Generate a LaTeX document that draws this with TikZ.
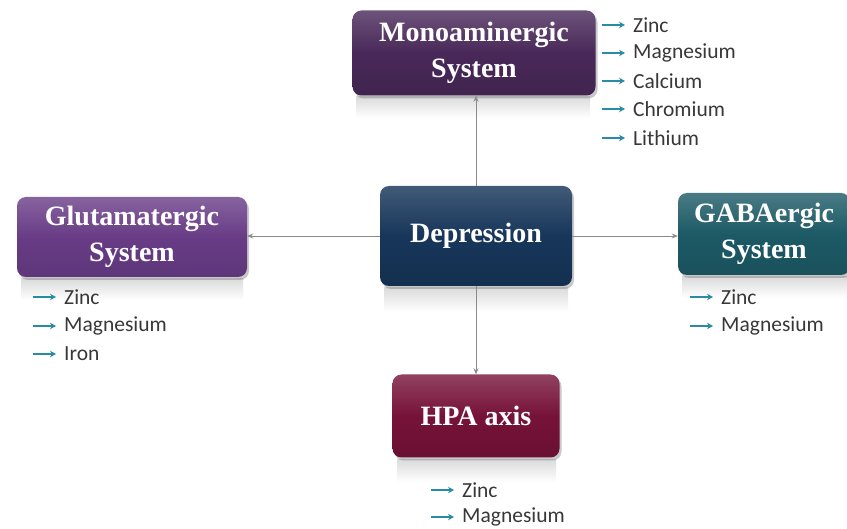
\documentclass[tikz,border=0pt]{standalone}
\usepackage{fontspec}
\setmainfont{Liberation Serif}
\newfontfamily\listfont{Carlito}
\usetikzlibrary{arrows.meta,shadows}
\definecolor{monoC}{HTML}{482858}
\definecolor{glutC}{HTML}{683C86}
\definecolor{depC}{HTML}{17365A}
\definecolor{gabaC}{HTML}{1C5A66}
\definecolor{hpaC}{HTML}{761238}
\definecolor{bulC}{HTML}{2A8CA4}
\definecolor{lineC}{HTML}{8A8A8A}
\tikzset{
  box/.style={rounded corners=9pt, draw=none, align=center, text=white,
    font=\bfseries\fontsize{28}{36}\selectfont, inner sep=0pt,
    drop shadow={shadow xshift=2pt, shadow yshift=-3pt, opacity=0.35, fill=black!60}},
  refl/.style={draw=none, top color=black!14, bottom color=white},
  conn/.style={draw=lineC, line width=0.9pt, -{Stealth[length=6pt,width=5pt]}},
  item/.style={anchor=west, inner sep=0pt, font=\listfont\fontsize{21.5}{24}\selectfont, text=black!78},
  bul/.style={draw=bulC, line width=1.4pt, -{Stealth[length=6pt,width=6.5pt]}}
}
\begin{document}
\begin{tikzpicture}[x=1pt,y=-1pt]
\useasboundingbox (0,0) rectangle (847,529);
\fill[white] (0,0) rectangle (847,529);
% reflections
\fill[refl] (356,97) rectangle (590,118);
\fill[refl] (384,288) rectangle (568,312);
\fill[refl] (21,279) rectangle (243,300);
\fill[refl] (682,277) rectangle (847,298);
\fill[refl] (397,460) rectangle (556,482);
% boxes
\node[box, minimum width=243pt, minimum height=85pt,
  top color=monoC!80!white, bottom color=monoC!90!black, middle color=monoC] (mono) at (474,53) {Monoaminergic\\System};
\node[box, minimum width=192pt, minimum height=100pt,
  top color=depC!82!white, bottom color=depC!88!black, middle color=depC] (dep) at (476,236) {Depression};
\node[box, minimum width=230pt, minimum height=80pt,
  top color=glutC!80!white, bottom color=glutC!90!black, middle color=glutC] (glut) at (132,237) {Glutamatergic\\System};
\node[box, minimum width=172pt, minimum height=82pt,
  top color=gabaC!80!white, bottom color=gabaC!90!black, middle color=gabaC] (gaba) at (764,234) {GABAergic\\System};
\node[box, minimum width=167pt, minimum height=83pt,
  top color=hpaC!80!white, bottom color=hpaC!90!black, middle color=hpaC] (hpa) at (476,416) {HPA axis};
% connectors
\draw[conn] (dep.north) -- (dep.north |- mono.south);
\draw[conn] (dep.west) -- (dep.west -| glut.east);
\draw[conn] (dep.east) -- (dep.east -| gaba.west);
\draw[conn] (dep.south) -- (dep.south |- hpa.north);
% lists
\node[item] (m1) at (633,25) {Zinc};
\node[item] (m2) at (633,53) {Magnesium};
\node[item] (m3) at (633,81) {Calcium};
\node[item] (m4) at (633,109) {Chromium};
\node[item] (m5) at (633,138) {Lithium};
\node[item] (g1) at (64,297) {Zinc};
\node[item] (g2) at (64,326) {Magnesium};
\node[item] (g3) at (64,354) {Iron};
\node[item] (b1) at (721,297) {Zinc};
\node[item] (b2) at (721,326) {Magnesium};
\node[item] (h1) at (462,490) {Zinc};
\node[item] (h2) at (462,517) {Magnesium};
\foreach \n in {m1,m2,m3,m4,m5,g1,g2,g3,b1,b2,h1,h2}{
  \draw[bul] ([xshift=-31pt]\n.west) -- ([xshift=-8pt]\n.west);
}
\end{tikzpicture}
\end{document}
